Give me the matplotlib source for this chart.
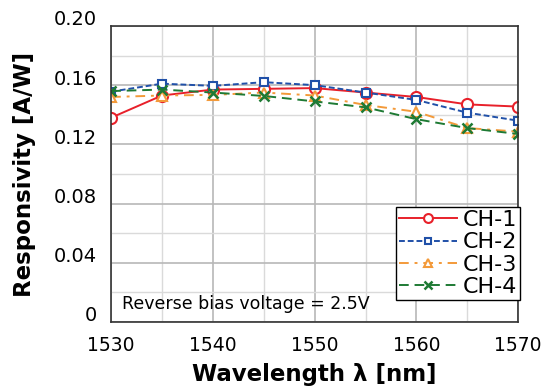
import numpy as np
import matplotlib.pyplot as plt
import matplotlib.transforms as mtransforms
from matplotlib.ticker import MultipleLocator

wl = [1530, 1535, 1540, 1545, 1550, 1555, 1560, 1565, 1570]
ch1 = [0.138, 0.153, 0.157, 0.1575, 0.158, 0.155, 0.152, 0.147, 0.1455]
ch2 = [0.1556, 0.161, 0.1595, 0.162, 0.160, 0.155, 0.150, 0.1414, 0.136]
ch3 = [0.152, 0.153, 0.1534, 0.155, 0.153, 0.1466, 0.142, 0.131, 0.1286]
ch4 = [0.156, 0.157, 0.155, 0.1527, 0.149, 0.145, 0.137, 0.131, 0.127]
yticks = [0, 0.04, 0.08, 0.12, 0.16, 0.20]
ytick_labels = ['0', '0.04', '0.08', '0.12', '0.16', '0.20']

fig = plt.figure(figsize=(5.42, 3.87), dpi=100)
ax = fig.add_axes([0.205, 0.168, 0.751, 0.765])

ax.plot(wl, ch1, '-o', color='#e8202a', lw=1.4, ms=8, mfc='white', mew=1.5, label='CH-1')
ax.plot(wl, ch2, '--s', color='#2050a8', lw=1.4, ms=6, mfc='white', mew=1.5, label='CH-2',
        dashes=(3, 1.5))
ax.plot(wl, ch3, '-.^', color='#f39a3a', lw=1.4, ms=7, mfc='white', mew=1.5, label='CH-3',
        dashes=(5, 3, 1.5, 3))
ax.plot(wl, ch4, '--x', color='#1e7a34', lw=1.4, ms=7, mew=1.8, label='CH-4', dashes=(5, 3))

ax.set_xlim(1530, 1570)
ax.set_ylim(0, 0.20)
ax.xaxis.set_major_locator(MultipleLocator(10))
ax.xaxis.set_minor_locator(MultipleLocator(5))
ax.yaxis.set_minor_locator(MultipleLocator(0.02))
ax.set_yticks(yticks)
ax.set_yticklabels(ytick_labels, fontsize=14)
ax.grid(which='major', color='#b8b8b8', lw=1.2)
ax.grid(which='minor', color='#dadada', lw=1.0)
ax.set_axisbelow(True)
ax.tick_params(which='both', length=0)
ax.tick_params(axis='x', pad=10, labelsize=13.5)
ax.tick_params(axis='y', pad=10)
# y tick labels sit a little above their grid lines
off = mtransforms.ScaledTranslation(0, 8 / 100, fig.dpi_scale_trans)
for lab in ax.get_yticklabels():
    lab.set_transform(lab.get_transform() + off)
for s in ax.spines.values():
    s.set_color('#333333')
    s.set_linewidth(1.2)

ax.set_xlabel('Wavelength λ [nm]', fontsize=16.5, fontweight='bold', labelpad=6)
ax.set_ylabel('Responsivity [A/W]', fontsize=16.5, fontweight='bold', labelpad=13)

ax.text(0.027, 0.06, 'Reverse bias voltage = 2.5V', transform=ax.transAxes,
        fontsize=12.5, va='center', ha='left')

leg = ax.legend(loc='lower right', bbox_to_anchor=(1.005, 0.074), fontsize=16,
                frameon=True, fancybox=False, edgecolor='black', framealpha=1,
                handlelength=2.6, handletextpad=0.25, borderpad=0.15,
                labelspacing=0.1, borderaxespad=0, markerscale=0.8)
leg.get_frame().set_linewidth(1.0)

fig.savefig('out.png', dpi=100)
